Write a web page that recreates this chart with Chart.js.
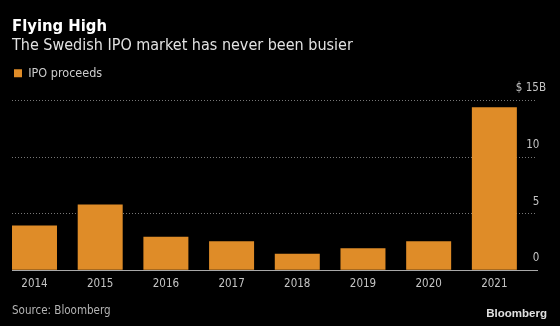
<!DOCTYPE html>
<html>
<head>
<meta charset="utf-8">
<script src="https://cdn.jsdelivr.net/npm/chart.js@4.4.1/dist/chart.umd.min.js"></script>
<style>
  html, body { margin: 0; padding: 0; background: #000; }
  #wrap { position: relative; width: 560px; height: 326px; background: #000; overflow: hidden; }
  #c { position: absolute; left: 0; top: 0; }
  .t { position: absolute; font-family: "DejaVu Sans Condensed", "DejaVu Sans", sans-serif; white-space: nowrap; }
  #title { left: 12px; top: 17.7px; font-size: 16.5px; line-height: 16.5px; font-weight: bold; color: #ffffff; }
  #sub { left: 12px; top: 36.5px; font-size: 16px; line-height: 16px; color: #e2e2e2; }
  #src { left: 12px; top: 305.3px; font-size: 11.5px; line-height: 11.5px; color: #b4b4b4; }
  #logo { right: 13px; top: 307.5px; font-family: "Liberation Sans", Arial, sans-serif; font-size: 11.5px; line-height: 11.5px; font-weight: bold; color: #e0e0e0; }
</style>
</head>
<body>
<div id="wrap">
  <canvas id="c" width="560" height="326"></canvas>
  <div class="t" id="title">Flying High</div>
  <div class="t" id="sub">The Swedish IPO market has never been busier</div>
  <div class="t" id="src">Source: Bloomberg</div>
  <div class="t" id="logo">Bloomberg</div>
</div>
<script>
// ---- data ----
const years = ['2014', '2015', '2016', '2017', '2018', '2019', '2020', '2021'];
const proceeds = [3.95, 5.8, 2.95, 2.55, 1.45, 1.95, 2.55, 14.4];
const yTicks = [0, 5, 10, 15];
const yTickLabels = ['0\u2007', '5\u2007', '10\u2007', '$ 15B'];
const seriesName = 'IPO proceeds';

const ORANGE = '#df8c28';
const FONT = '"DejaVu Sans Condensed", "DejaVu Sans", sans-serif';

const legendMargin = {
  id: 'legendMargin',
  beforeInit(chart) {
    const origFit = chart.legend.fit;
    chart.legend.fit = function () {
      origFit.bind(chart.legend)();
      this.height += 11;
    };
  }
};

new Chart(document.getElementById('c'), {
  type: 'bar',
  data: {
    datasets: [{
      label: seriesName,
      data: proceeds.map((v, i) => ({ x: i, y: v })),
      backgroundColor: ORANGE,
      borderWidth: 0,
      categoryPercentage: 0.8,
      barPercentage: 0.856
    }]
  },
  plugins: [legendMargin],
  options: {
    responsive: false,
    animation: false,
    events: [],
    layout: { padding: { left: 12, right: 5, top: 65, bottom: 28 } },
    plugins: {
      tooltip: { enabled: false },
      title: { display: false },
      legend: {
        display: true,
        position: 'top',
        align: 'start',
        labels: {
          boxWidth: 8,
          boxHeight: 8,
          padding: 2,
          color: '#cccccc',
          font: { family: FONT, size: 12.5 }
        }
      }
    },
    scales: {
      x: {
        type: 'linear',
        min: -0.3425,
        max: 7.649,
        offset: false,
        grid: { display: false, drawTicks: false },
        border: { display: true, color: '#a8a8a8', width: 1 },
        afterBuildTicks(scale) { scale.ticks = years.map((_, i) => ({ value: i })); },
        ticks: {
          color: '#c4c4c4',
          font: { family: FONT, size: 11.5 },
          padding: 7,
          maxRotation: 0,
          autoSkip: false,
          callback: (v) => years[v]
        }
      },
      y: {
        position: 'right',
        min: 0,
        max: 15,
        afterBuildTicks(scale) { scale.ticks = yTicks.map(v => ({ value: v })); },
        grid: {
          drawTicks: false,
          color: (ctx) => (ctx.tick && ctx.tick.value === 0) ? 'rgba(0,0,0,0)' : '#777777',
          lineWidth: 1
        },
        border: { display: false, dash: [1, 2] },
        ticks: {
          mirror: true,
          padding: 9,
          labelOffset: -12,
          color: '#c4c4c4',
          font: { family: FONT, size: 11.5 },
          callback: (v, i) => yTickLabels[yTicks.indexOf(v)]
        }
      }
    }
  }
});
</script>
</body>
</html>
